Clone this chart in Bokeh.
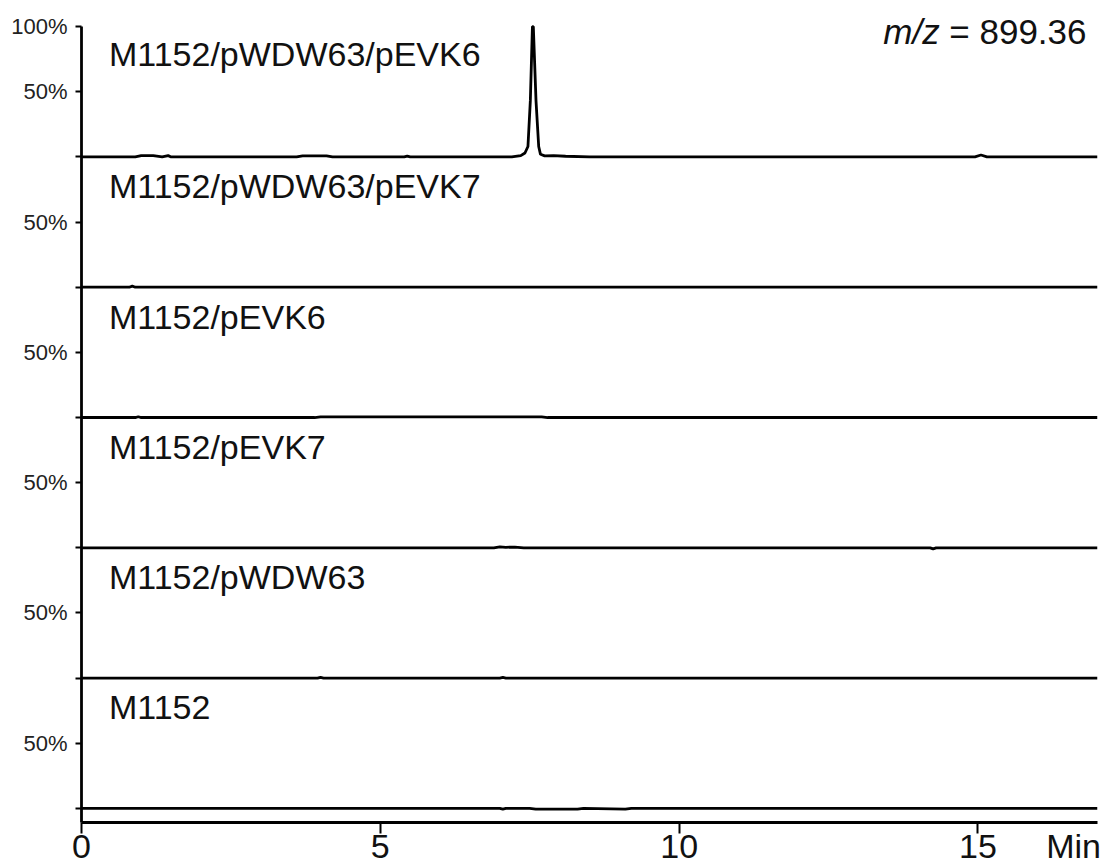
from bokeh.plotting import figure
from bokeh.models import FixedTicker, Range1d, LinearAxis, Label
from bokeh.embed import file_html
from bokeh.resources import INLINE
from bokeh.core.properties import value

FONT = "Liberation Sans"

# ---- data (top panel first) ----
sample_labels = ["M1152/pWDW63/pEVK6", "M1152/pWDW63/pEVK7", "M1152/pEVK6",
                 "M1152/pEVK7", "M1152/pWDW63", "M1152"]

times_pwdw63_pevk6 = [0, 0.9, 1.0, 1.2, 1.35, 1.45, 1.5, 3.6, 3.7, 4.1, 4.2, 5.4, 5.45, 5.5,
                      7.2, 7.35, 7.42, 7.47, 7.51, 7.545, 7.56, 7.605, 7.65, 7.68, 7.75,
                      7.9, 8.1, 8.5, 14.95, 15.05, 15.15, 17]
inten_pwdw63_pevk6 = [0, 0, 0.01, 0.01, 0, 0.01, 0, 0, 0.008, 0.008, 0, 0, 0.006, 0,
                      0, 0.01, 0.03, 0.08, 0.43, 1.0, 1.0, 0.43, 0.08, 0.02, 0.008,
                      0.01, 0.005, 0, 0, 0.015, 0, 0]

times_pwdw63_pevk7 = [0, 0.8, 0.85, 0.9, 17]
inten_pwdw63_pevk7 = [0, 0, 0.008, 0, 0]

times_pevk6 = [0, 0.9, 0.95, 1.0, 3.9, 4.0, 7.7, 7.8, 17]
inten_pevk6 = [0, 0, 0.006, 0, 0, 0.005, 0.005, 0, 0]

times_pevk7 = [0, 6.9, 7.0, 7.1, 7.25, 7.4, 14.2, 14.25, 14.3, 17]
inten_pevk7 = [0, 0, 0.008, 0.004, 0.006, 0, 0, -0.008, 0, 0]

times_pwdw63 = [0, 3.95, 4.0, 4.05, 7.0, 7.05, 7.1, 17]
inten_pwdw63 = [0, 0, 0.006, 0, 0, 0.005, 0, 0]

times_m1152 = [0, 7.0, 7.05, 7.1, 7.5, 7.6, 8.3, 8.4, 9.1, 9.2, 17]
inten_m1152 = [0, 0, -0.006, 0, 0, -0.006, -0.006, 0, -0.006, 0, 0]

all_times = [times_pwdw63_pevk6, times_pwdw63_pevk7, times_pevk6, times_pevk7, times_pwdw63, times_m1152]
all_inten = [inten_pwdw63_pevk6, inten_pwdw63_pevk7, inten_pevk6, inten_pevk7, inten_pwdw63, inten_m1152]

x_ticks = [0, 5, 10, 15]
x_unit = "Min"
mz_label = "m/z"
mz_value = "= 899.36"

# ---- figure ----
n = len(all_times)
y_lo = -0.108
p = figure(width=1105, height=867, output_backend="svg", toolbar_location=None,
           x_range=Range1d(0, 17), y_range=Range1d(y_lo, n + 0.093),
           min_border_left=81, min_border_right=8, min_border_top=14, min_border_bottom=20)
p.outline_line_color = None
p.grid.visible = False
p.background_fill_color = "white"
p.border_fill_color = "white"

for i, (t, v) in enumerate(zip(all_times, all_inten)):
    off = n - 1 - i
    p.line(t, [off + a for a in v], line_color="black", line_width=2.8)

# sample labels
lift = [0.79, 0.775, 0.775, 0.775, 0.775, 0.775]
p.text(x=[0.46] * n, y=[n - 1 - i + lift[i] for i in range(n)], text=sample_labels,
       text_font=value(FONT), text_font_size="34px", text_color="#111111",
       text_baseline="alphabetic", text_align="left")

# m/z label
p.add_layout(Label(x=14.36, y=n - 0.04, text=mz_label, text_font=FONT, text_font_style="italic",
                   text_font_size="35px", text_color="#111111",
                   text_baseline="alphabetic", text_align="right"))
p.add_layout(Label(x=14.52, y=n - 0.04, text=mz_value, text_font=FONT,
                   text_font_size="35px", text_color="#111111",
                   text_baseline="alphabetic", text_align="left"))

# y axis (line limited to 0..100% of the top panel)
yt = [k * 0.5 for k in range(2 * n + 1)]
p.yaxis.ticker = FixedTicker(ticks=yt)
p.yaxis.bounds = (y_lo, n)
overrides = {}
for k, tv in enumerate(yt):
    if k == 2 * n:
        overrides[tv] = "100%"
    elif k % 2 == 1:
        overrides[tv] = "50%"
    else:
        overrides[tv] = ""
p.yaxis.major_label_overrides = overrides
p.yaxis.major_tick_out = 6
p.yaxis.major_tick_in = 0
p.yaxis.minor_tick_line_color = None
p.yaxis.axis_line_width = 2.8
p.yaxis.major_tick_line_width = 2
p.yaxis.major_label_text_font = FONT
p.yaxis.major_label_text_font_size = "22px"
p.yaxis.major_label_text_color = "#222222"
p.yaxis.major_label_standoff = 8

# x axis: line + tick marks only (labels not drawn)
xa = p.xaxis[0]
xa.ticker = FixedTicker(ticks=x_ticks)
xa.major_tick_out = 11
xa.major_tick_in = 0
xa.minor_tick_line_color = None
xa.axis_line_width = 2.8
xa.major_tick_line_width = 2
xa.major_label_text_color = None
xa.major_label_text_font_size = "0px"
xa.major_label_standoff = 0

# second x axis: tick labels + unit, in one row
unit_pos = 16.6
xl = LinearAxis(ticker=FixedTicker(ticks=x_ticks + [unit_pos]),
                major_label_overrides={unit_pos: x_unit},
                axis_line_color=None, major_tick_line_color=None, minor_tick_line_color=None,
                major_tick_in=0, major_tick_out=0, major_label_standoff=-7,
                major_label_text_font=FONT, major_label_text_font_size="34px",
                major_label_text_color="#111111")
p.add_layout(xl, "below")

open("out.html", "w").write(file_html(p, INLINE))
